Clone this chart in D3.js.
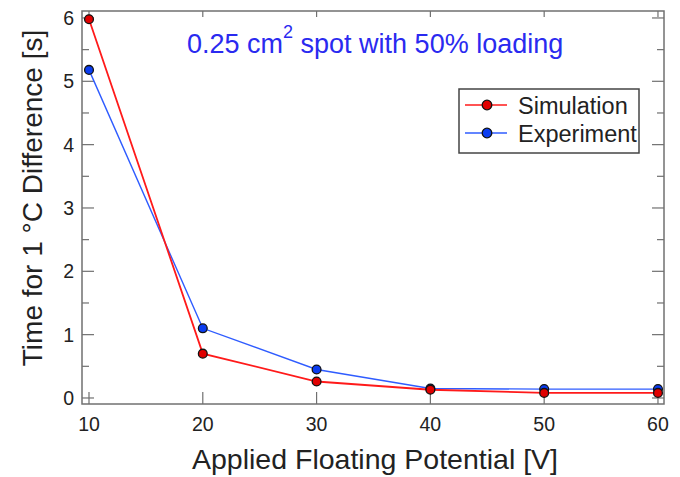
<!DOCTYPE html>
<html>
<head>
<meta charset="utf-8">
<script src="https://cdn.jsdelivr.net/npm/d3@7"></script>
<style>
  body { margin: 0; background: #fff; }
  text { font-family: Arial, "Liberation Sans", sans-serif; }
</style>
</head>
<body>
<svg id="chart" width="680" height="477"></svg>
<script>
// data
const potentials = [10, 20, 30, 40, 50, 60];
const simulation = [5.98, 0.70, 0.26, 0.13, 0.08, 0.08];
const experiment = [5.18, 1.10, 0.45, 0.15, 0.14, 0.14];
const xTicks = [10, 20, 30, 40, 50, 60];
const yTicks = [0, 1, 2, 3, 4, 5, 6];

const svg = d3.select('svg#chart');

const plotLeft = 82, plotRight = 664, plotTop = 11, plotBottom = 404;
const frameColor = '#707070';

const x = d3.scaleLinear().domain([9.385, 60.53]).range([plotLeft, plotRight]);
const y = d3.scaleLinear().domain([-0.095, 6.11]).range([plotBottom, plotTop]);

// frame
svg.append('rect')
  .attr('x', plotLeft).attr('y', plotTop)
  .attr('width', plotRight - plotLeft).attr('height', plotBottom - plotTop)
  .attr('fill', 'none').attr('stroke', frameColor).attr('stroke-width', 1.5);

// ticks (inward)
const yMinor = d3.range(0.5, 6, 1);

function yTickLines(vals, len) {
  vals.forEach(v => {
    svg.append('line').attr('x1', plotLeft).attr('x2', plotLeft + len)
      .attr('y1', y(v)).attr('y2', y(v)).attr('stroke', frameColor).attr('stroke-width', 1.2);
    svg.append('line').attr('x1', plotRight).attr('x2', plotRight - len)
      .attr('y1', y(v)).attr('y2', y(v)).attr('stroke', frameColor).attr('stroke-width', 1.2);
  });
}
yTickLines(yTicks, 12);
yTickLines(yMinor, 7);

xTicks.forEach(v => {
  svg.append('line').attr('y1', plotBottom).attr('y2', plotBottom - 12)
    .attr('x1', x(v)).attr('x2', x(v)).attr('stroke', frameColor).attr('stroke-width', 1.2);
  svg.append('line').attr('y1', plotTop).attr('y2', plotTop + 6)
    .attr('x1', x(v)).attr('x2', x(v)).attr('stroke', frameColor).attr('stroke-width', 1.2);
});

// tick labels
svg.append('g').selectAll('text').data(yTicks).join('text')
  .attr('x', plotLeft - 8).attr('y', d => y(d) + 7)
  .attr('text-anchor', 'end').attr('font-size', 19.5).attr('fill', '#222')
  .text(d => d);

svg.append('g').selectAll('text').data(xTicks).join('text')
  .attr('x', d => x(d)).attr('y', plotBottom + 27)
  .attr('text-anchor', 'middle').attr('font-size', 19.5).attr('fill', '#222')
  .text(d => d);

// axis titles
svg.append('text')
  .attr('x', 375).attr('y', 469)
  .attr('text-anchor', 'middle').attr('font-size', 28.5).attr('fill', '#222')
  .text('Applied Floating Potential [V]');

svg.append('text')
  .attr('transform', 'translate(42, 198) rotate(-90)')
  .attr('text-anchor', 'middle').attr('font-size', 28).attr('fill', '#222')
  .text('Time for 1 °C Difference [s]');

// annotation
const note = svg.append('text')
  .attr('x', 187).attr('y', 53)
  .attr('font-size', 27).attr('fill', '#2a2af0');
note.append('tspan').text('0.25 cm');
note.append('tspan').attr('dy', -15).attr('font-size', 18).text('2');
note.append('tspan').attr('dy', 15).text(' spot with 50% loading');

// series
const series = [
  { name: 'Simulation', values: simulation, color: '#ff1a1a', fill: '#e00000', width: 1.8 },
  { name: 'Experiment', values: experiment, color: '#2f5cff', fill: '#0a3cf0', width: 1.4 }
];

const line = d3.line().x(d => x(d[0])).y(d => y(d[1]));

series.slice().reverse().forEach(s => {
  const pts = potentials.map((p, i) => [p, s.values[i]]);
  svg.append('path').datum(pts)
    .attr('d', line).attr('fill', 'none')
    .attr('stroke', s.color).attr('stroke-width', s.width);
});
series.slice().reverse().forEach(s => {
  const pts = potentials.map((p, i) => [p, s.values[i]]);
  svg.append('g').selectAll('circle').data(pts).join('circle')
    .attr('cx', d => x(d[0])).attr('cy', d => y(d[1])).attr('r', 4.4)
    .attr('fill', s.fill)
    .attr('stroke', '#111').attr('stroke-width', 1.3);
});

// legend
const lg = svg.append('g');
lg.append('rect')
  .attr('x', 459).attr('y', 89).attr('width', 180).attr('height', 64)
  .attr('fill', '#fff').attr('stroke', '#444').attr('stroke-width', 1.5);
series.forEach((s, i) => {
  const yy = 105 + i * 28;
  lg.append('line').attr('x1', 465).attr('x2', 507).attr('y1', yy).attr('y2', yy)
    .attr('stroke', s.color).attr('stroke-width', 1.5);
  lg.append('circle').attr('cx', 487).attr('cy', yy).attr('r', 4.8)
    .attr('fill', s.fill)
    .attr('stroke', '#111').attr('stroke-width', 1.3);
  lg.append('text').attr('x', 518).attr('y', yy + 8.5)
    .attr('font-size', 23.5).attr('fill', '#222').text(s.name);
});
</script>
</body>
</html>
